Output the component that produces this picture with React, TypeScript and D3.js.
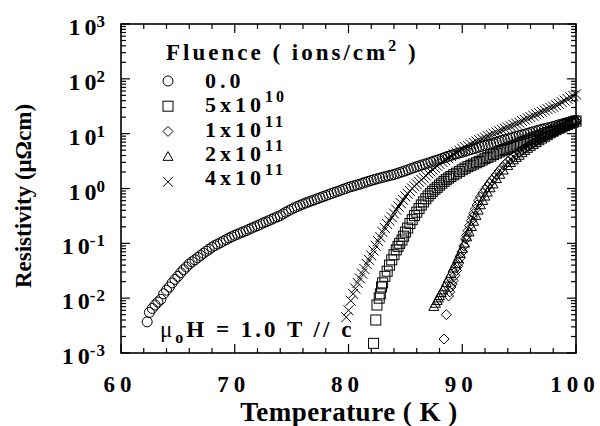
import React from "react";
import * as d3 from "d3";

// [temperature K, resistivity µΩcm]
const fluence00: [number, number][] = [
  [62.3, 0.0037], [62.5, 0.0055], [62.75, 0.0065], [63, 0.0075], [63.25, 0.0085], [63.5, 0.0095], [63.75, 0.012],
  [64, 0.014], [64.25, 0.016], [64.5, 0.019], [64.75, 0.022], [65, 0.025], [65.25, 0.029], [65.5, 0.033], [65.75, 0.037],
  [66, 0.042], [66.25, 0.046], [66.5, 0.05], [66.75, 0.055], [67, 0.06], [67.25, 0.066], [67.5, 0.072], [67.75, 0.078],
  [68, 0.085], [68.25, 0.091], [68.5, 0.097], [68.75, 0.103], [69, 0.11], [69.25, 0.117], [69.5, 0.125], [69.75, 0.132],
  [70, 0.14], [70.25, 0.147], [70.5, 0.155], [70.75, 0.162], [71, 0.17], [71.25, 0.18], [71.5, 0.19], [71.75, 0.2],
  [72, 0.21], [72.25, 0.222], [72.5, 0.235], [72.75, 0.247], [73, 0.26], [73.25, 0.275], [73.5, 0.29], [73.75, 0.305],
  [74, 0.32], [74.25, 0.345], [74.5, 0.37], [74.75, 0.395], [75, 0.42], [75.25, 0.445], [75.5, 0.47], [75.75, 0.495],
  [76, 0.52], [76.25, 0.545], [76.5, 0.57], [76.75, 0.595], [77, 0.62], [77.25, 0.65], [77.5, 0.68], [77.75, 0.71],
  [78, 0.74], [78.25, 0.775], [78.5, 0.81], [78.75, 0.845], [79, 0.88], [79.25, 0.92], [79.5, 0.96], [79.75, 1.0],
  [80, 1.05], [80.25, 1.085], [80.5, 1.12], [80.75, 1.16], [81, 1.2], [81.25, 1.25], [81.5, 1.3], [81.75, 1.35],
  [82, 1.4], [82.25, 1.45], [82.5, 1.5], [82.75, 1.55], [83, 1.6], [83.25, 1.65], [83.5, 1.7], [83.75, 1.75],
  [84, 1.8], [84.25, 1.87], [84.5, 1.95], [84.75, 2.02], [85, 2.1], [85.25, 2.2], [85.5, 2.3], [85.75, 2.4],
  [86, 2.5], [86.25, 2.6], [86.5, 2.7], [86.75, 2.8], [87, 2.9], [87.25, 3.02], [87.5, 3.15], [87.75, 3.27],
  [88, 3.4], [88.25, 3.55], [88.5, 3.7], [88.75, 3.85], [89, 4.0], [89.25, 4.15], [89.5, 4.3], [89.75, 4.45],
  [90, 4.6], [90.25, 4.77], [90.5, 4.95], [90.75, 5.12], [91, 5.3], [91.25, 5.5], [91.5, 5.7], [91.75, 5.9],
  [92, 6.1], [92.25, 6.3], [92.5, 6.5], [92.75, 6.75], [93, 7.0], [93.25, 7.25], [93.5, 7.5], [93.75, 7.75],
  [94, 8.0], [94.25, 8.3], [94.5, 8.6], [94.75, 8.9], [95, 9.2], [95.25, 9.5], [95.5, 9.8], [95.75, 10.1],
  [96, 10.5], [96.25, 10.85], [96.5, 11.2], [96.75, 11.6], [97, 12], [97.25, 12.35], [97.5, 12.7], [97.75, 13.1],
  [98, 13.5], [98.25, 14], [98.5, 14.5], [98.75, 15], [99, 15.5], [99.25, 16], [99.5, 16.5], [99.75, 17], [100, 17.5],
];

const fluence5e10: [number, number][] = [
  [82.2, 0.0015], [82.4, 0.004], [82.5, 0.0075], [82.7, 0.01], [82.8, 0.012], [82.9, 0.016], [83.0, 0.019],
  [83.2, 0.025], [83.4, 0.031], [83.6, 0.04], [83.8, 0.05], [84.0, 0.062], [84.2, 0.076], [84.35, 0.088], [84.5, 0.1],
  [84.7, 0.115], [84.85, 0.135], [85.0, 0.16], [85.2, 0.19], [85.4, 0.23], [85.6, 0.27], [85.8, 0.32], [86.0, 0.37],
  [86.2, 0.43], [86.4, 0.5], [86.6, 0.57], [86.8, 0.65], [87.0, 0.73], [87.2, 0.81], [87.4, 0.89], [87.6, 0.97],
  [87.8, 1.05], [88.0, 1.15], [88.2, 1.25], [88.4, 1.35], [88.6, 1.45], [88.8, 1.55], [89.0, 1.65], [89.25, 1.78],
  [89.5, 1.9], [89.75, 2.05], [90, 2.2], [90.25, 2.35], [90.5, 2.5], [90.75, 2.65], [91, 2.8], [91.25, 2.95],
  [91.5, 3.1], [91.75, 3.3], [92, 3.5], [92.25, 3.7], [92.5, 3.9], [92.75, 4.15], [93, 4.4], [93.25, 4.65],
  [93.5, 4.9], [93.75, 5.15], [94, 5.4], [94.25, 5.65], [94.5, 5.9], [94.75, 6.2], [95, 6.5], [95.25, 6.85],
  [95.5, 7.2], [95.75, 7.55], [96, 7.9], [96.25, 8.3], [96.5, 8.7], [96.75, 9.1], [97, 9.5], [97.25, 10],
  [97.5, 10.5], [97.75, 11], [98, 11.5], [98.25, 12.1], [98.5, 12.7], [98.75, 13.3], [99, 14], [99.25, 14.7],
  [99.5, 15.5], [99.75, 16.2], [100, 17],
];

const fluence1e11: [number, number][] = [
  [88.4, 0.0018], [88.6, 0.005], [88.8, 0.011], [88.9, 0.013], [89.0, 0.016], [89.1, 0.018], [89.2, 0.021],
  [89.35, 0.026], [89.5, 0.032], [89.6, 0.038], [89.7, 0.044], [89.85, 0.055], [90.0, 0.07], [90.15, 0.09],
  [90.3, 0.12], [90.4, 0.14], [90.5, 0.17], [90.65, 0.21], [90.8, 0.26], [90.9, 0.3], [91.0, 0.35], [91.15, 0.42],
  [91.3, 0.5], [91.45, 0.6], [91.6, 0.7], [91.8, 0.82], [92.0, 0.95], [92.2, 1.08], [92.4, 1.23], [92.6, 1.4],
  [92.8, 1.58], [93, 1.8], [93.25, 2.1], [93.5, 2.4], [93.75, 2.75], [94, 3.1], [94.25, 3.45], [94.5, 3.8],
  [94.75, 4.2], [95, 4.6], [95.25, 5.0], [95.5, 5.4], [95.75, 5.85], [96, 6.3], [96.25, 6.75], [96.5, 7.2],
  [96.75, 7.7], [97, 8.2], [97.25, 8.75], [97.5, 9.3], [97.75, 9.9], [98, 10.5], [98.25, 11.2], [98.5, 12],
  [98.75, 12.7], [99, 13.5], [99.25, 14.3], [99.5, 15.2], [99.75, 16.1], [100, 17],
];

const fluence2e11: [number, number][] = [
  [87.5, 0.007], [87.65, 0.008], [87.8, 0.009], [87.9, 0.01], [88.0, 0.011], [88.15, 0.0125], [88.3, 0.014],
  [88.45, 0.016], [88.6, 0.019], [88.8, 0.023], [89.0, 0.028], [89.2, 0.035], [89.4, 0.042], [89.6, 0.052],
  [89.8, 0.065], [90.0, 0.08], [90.2, 0.1], [90.4, 0.13], [90.6, 0.16], [90.8, 0.2], [91.0, 0.25], [91.2, 0.32],
  [91.4, 0.4], [91.6, 0.5], [91.8, 0.6], [92.0, 0.72], [92.2, 0.85], [92.45, 1.02], [92.7, 1.2], [93.0, 1.5],
  [93.3, 1.8], [93.6, 2.15], [94, 2.6], [94.25, 2.95], [94.5, 3.3], [94.75, 3.65], [95, 4.0], [95.25, 4.45],
  [95.5, 4.9], [95.75, 5.35], [96, 5.8], [96.25, 6.3], [96.5, 6.8], [96.75, 7.35], [97, 7.9], [97.25, 8.5],
  [97.5, 9.1], [97.75, 9.8], [98, 10.5], [98.25, 11.2], [98.5, 12], [98.75, 12.7], [99, 13.5], [99.25, 14.5],
  [99.5, 15.5], [99.75, 16.5], [100, 17.5],
];

const fluence4e11: [number, number][] = [
  [79.8, 0.0045], [80.0, 0.006], [80.2, 0.009], [80.4, 0.012], [80.6, 0.015], [80.8, 0.019], [81.0, 0.023],
  [81.2, 0.028], [81.4, 0.034], [81.6, 0.042], [81.8, 0.05], [82.0, 0.06], [82.2, 0.074], [82.4, 0.09],
  [82.6, 0.11], [82.8, 0.13], [83.0, 0.16], [83.2, 0.19], [83.4, 0.225], [83.6, 0.26], [83.8, 0.3], [84.0, 0.35],
  [84.2, 0.41], [84.4, 0.47], [84.6, 0.54], [84.8, 0.62], [85.0, 0.72], [85.2, 0.8], [85.4, 0.9], [85.6, 1.0],
  [85.8, 1.1], [86.0, 1.2], [86.2, 1.32], [86.4, 1.44], [86.6, 1.57], [86.8, 1.72], [87.0, 1.9], [87.2, 2.05],
  [87.4, 2.2], [87.6, 2.38], [87.8, 2.58], [88.0, 2.8], [88.25, 3.05], [88.5, 3.3], [88.75, 3.6], [89, 3.9],
  [89.25, 4.2], [89.5, 4.5], [89.75, 4.9], [90, 5.3], [90.25, 5.65], [90.5, 6.0], [90.75, 6.4], [91, 6.8],
  [91.25, 7.2], [91.5, 7.6], [91.75, 8.05], [92, 8.5], [92.25, 9.0], [92.5, 9.5], [92.75, 10.0], [93, 10.5],
  [93.25, 11.1], [93.5, 11.7], [93.75, 12.3], [94, 13], [94.25, 13.7], [94.5, 14.5], [94.75, 15.2], [95, 16],
  [95.25, 17], [95.5, 18], [95.75, 19], [96, 20], [96.25, 21.2], [96.5, 22.5], [96.75, 23.7], [97, 25],
  [97.25, 26.5], [97.5, 28], [97.75, 29.5], [98, 31], [98.25, 33], [98.5, 35], [98.75, 37.5], [99, 40],
  [99.25, 43], [99.5, 46], [99.75, 49], [100, 52],
];

const legendLabels = [
  { base: "0.0", sup: "" },
  { base: "5x10", sup: "10" },
  { base: "1x10", sup: "11" },
  { base: "2x10", sup: "11" },
  { base: "4x10", sup: "11" },
];
const xTicks = [60, 70, 80, 90, 100];
const yDecades = [-3, -2, -1, 0, 1, 2, 3];

const FONT = "'Liberation Serif', 'Times New Roman', serif";

const W = 600;
const H = 426;
const left = 121;
const right = 576;
const top = 24;
const bottom = 353;

const x = d3.scaleLinear().domain([60, 100]).range([left, right]);
const y = d3.scaleLog().domain([1e-3, 1e3]).range([bottom, top]);

type Shape = "circle" | "square" | "diamond" | "triangle" | "cross";

const marker = (shape: Shape, cx: number, cy: number, key: string | number) => {
  const s = 5;
  const common = { fill: "none", stroke: "#000", strokeWidth: 1 };
  if (shape === "circle") return <circle key={key} cx={cx} cy={cy} r={s} {...common} />;
  if (shape === "square")
    return <rect key={key} x={cx - s} y={cy - s} width={2 * s} height={2 * s} {...common} />;
  if (shape === "diamond")
    return (
      <path key={key} d={`M${cx},${cy - s}L${cx + s},${cy}L${cx},${cy + s}L${cx - s},${cy}Z`} {...common} />
    );
  if (shape === "triangle")
    return (
      <path key={key} d={`M${cx},${cy - s}L${cx + s},${cy + s * 0.75}L${cx - s},${cy + s * 0.75}Z`} {...common} />
    );
  return (
    <path key={key} d={`M${cx - s},${cy - s}L${cx + s},${cy + s}M${cx + s},${cy - s}L${cx - s},${cy + s}`} {...common} />
  );
};

const series: { shape: Shape; pts: [number, number][] }[] = [
  { shape: "circle", pts: fluence00 },
  { shape: "square", pts: fluence5e10 },
  { shape: "diamond", pts: fluence1e11 },
  { shape: "triangle", pts: fluence2e11 },
  { shape: "cross", pts: fluence4e11 },
];

export default function App() {
  // x ticks every 2 K
  const xMinor = d3.range(60, 100.01, 2);
  // log minor ticks
  const yMinor: number[] = [];
  for (let d = -3; d < 3; d++) for (let k = 2; k <= 9; k++) yMinor.push(k * Math.pow(10, d));

  return (
    <svg width={W} height={H} style={{ position: "absolute", left: 0, top: 0, background: "#fff" }}>
      {/* ticks */}
      <g stroke="#000" strokeWidth={1.2}>
        {xMinor.map((v) => {
          const len = v % 10 === 0 ? 9 : 5;
          return (
            <g key={"xt" + v}>
              <line x1={x(v)} x2={x(v)} y1={bottom} y2={bottom - len} />
              <line x1={x(v)} x2={x(v)} y1={top} y2={top + len} />
            </g>
          );
        })}
        {yDecades.map((d) => (
          <g key={"yt" + d}>
            <line x1={left} x2={left + 9} y1={y(Math.pow(10, d))} y2={y(Math.pow(10, d))} />
            <line x1={right} x2={right - 9} y1={y(Math.pow(10, d))} y2={y(Math.pow(10, d))} />
          </g>
        ))}
        {yMinor.map((v, i) => (
          <g key={"ym" + i}>
            <line x1={left} x2={left + 5} y1={y(v)} y2={y(v)} />
            <line x1={right} x2={right - 5} y1={y(v)} y2={y(v)} />
          </g>
        ))}
      </g>
      <rect x={left} y={top} width={right - left} height={bottom - top} fill="none" stroke="#000" strokeWidth={1.6} />

      {/* data */}
      {series.map((s) => (
        <g key={s.shape}>{s.pts.map((p, i) => marker(s.shape, x(p[0]), y(p[1]), i))}</g>
      ))}

      <g fontFamily={FONT} fontWeight="bold" fill="#000" style={{ whiteSpace: "pre" }}>
        {/* y tick labels */}
        {yDecades.map((d) => (
          <text key={"yl" + d} x={106} y={y(Math.pow(10, d)) + 11} fontSize={24} textAnchor="end">
            <tspan letterSpacing={4}>1</tspan>
            <tspan>0</tspan>
            <tspan dy={-8} fontSize={17} letterSpacing={1}>
              {d < 0 ? `-${-d}` : `${d}`}
            </tspan>
          </text>
        ))}
        {/* x tick labels */}
        {xTicks.map((v) => (
          <text key={"xl" + v} x={x(v) - 1} y={392} fontSize={23} textAnchor="middle" letterSpacing={5}>
            {v}
          </text>
        ))}
        <text x={349} y={421} fontSize={27} textAnchor="middle" letterSpacing={0.5}>
          Temperature ( K )
        </text>
        <text transform="translate(31,196) rotate(-90)" fontSize={23} textAnchor="middle">
          Resistivity  (μΩcm)
        </text>

        {/* legend */}
        <text x={166} y={60} fontSize={23} letterSpacing={3}>
          Fluence ( ions/cm<tspan dy={-9} fontSize={16}>2</tspan>
          <tspan dy={9}> )</tspan>
        </text>
        {legendLabels.map((l, i) => (
          <text key={"lg" + i} x={205} y={88 + i * 24.3} fontSize={22} letterSpacing={4}>
            {l.base}
            {l.sup && (
              <tspan dy={-10} fontSize={16} letterSpacing={3}>
                {l.sup}
              </tspan>
            )}
          </text>
        ))}

        {/* field annotation */}
        <text x={160} y={337} fontSize={23} letterSpacing={3}>
          <tspan fontWeight="normal">μ</tspan>
          <tspan dy={6} fontSize={16}>o</tspan>
          <tspan dy={-6}>H = 1.0  T // c</tspan>
        </text>
      </g>
      <g>{series.map((s, i) => marker(s.shape, 168, 81 + i * 25.2, "lm" + i))}</g>
    </svg>
  );
}
